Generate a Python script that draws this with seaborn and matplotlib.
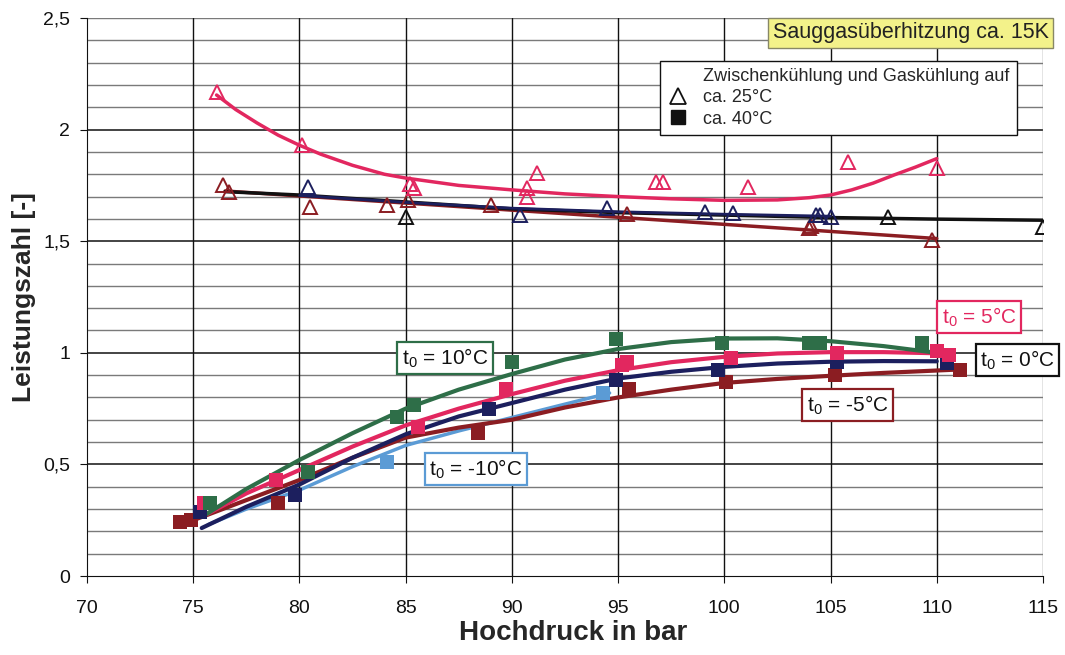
import numpy as np
import matplotlib
matplotlib.use("Agg")
import matplotlib.pyplot as plt
import seaborn as sns
from matplotlib.lines import Line2D

sns.set_style("white")
plt.rcParams["font.family"] = ["Liberation Sans", "DejaVu Sans"]
plt.rcParams["mathtext.fontset"] = "custom"
plt.rcParams["mathtext.rm"] = "Liberation Sans"

# --- triangles: Zwischenkühlung / Gaskühlung ca. 25°C ---
tri_pink_x = [76.1, 80.1, 85.2, 85.4, 90.7, 90.7, 91.2, 96.8, 97.1, 101.1, 105.8, 110.0]
tri_pink_y = [2.17, 1.93, 1.755, 1.74, 1.74, 1.70, 1.805, 1.767, 1.765, 1.745, 1.855, 1.83]
tri_maroon_x = [76.4, 76.7, 80.5, 84.1, 85.1, 89.0, 95.4, 104.0, 104.1, 109.8]
tri_maroon_y = [1.752, 1.72, 1.653, 1.662, 1.685, 1.662, 1.62, 1.559, 1.57, 1.505]
tri_navy_x = [80.4, 90.4, 94.5, 99.1, 100.4, 104.3, 104.5, 105.0]
tri_navy_y = [1.743, 1.617, 1.649, 1.631, 1.626, 1.617, 1.617, 1.608]
tri_black_x = [85.0, 107.7, 115.0]
tri_black_y = [1.608, 1.608, 1.564]

# trend curves for the triangle series
trend_pink_x = [76.1, 77, 78, 79, 80, 81, 82.5, 84, 85, 87.5, 90, 92.5, 95, 97.5, 100, 102.5,
                104, 105, 106, 107, 108, 109, 110]
trend_pink_y = [2.155, 2.09, 2.03, 1.975, 1.93, 1.89, 1.84, 1.80, 1.783, 1.75, 1.73, 1.712,
                1.70, 1.69, 1.683, 1.685, 1.695, 1.707, 1.73, 1.76, 1.797, 1.832, 1.87]
trend_maroon_x = [76.5, 110.0]
trend_maroon_y = [1.725, 1.512]
trend_black_x = [76.5, 80, 85, 90, 95, 100, 105, 110, 115]
trend_black_y = [1.722, 1.707, 1.676, 1.645, 1.628, 1.617, 1.606, 1.599, 1.594]
trend_navy_x = [80.0, 85, 90, 95, 100, 105]
trend_navy_y = [1.705, 1.674, 1.648, 1.632, 1.621, 1.612]

# --- squares: ca. 40°C, one series per evaporation temperature ---
sq_green_x = [75.8, 80.4, 84.6, 85.4, 90.0, 94.9, 99.9, 104.0, 104.5, 109.3]
sq_green_y = [0.327, 0.466, 0.712, 0.766, 0.959, 1.062, 1.044, 1.044, 1.044, 1.044]
sq_pink_x = [75.5, 78.9, 85.6, 89.7, 95.2, 95.4, 100.3, 105.3, 110.0, 110.6]
sq_pink_y = [0.327, 0.43, 0.667, 0.84, 0.945, 0.96, 0.977, 1.0, 1.01, 0.99]
sq_navy_x = [75.3, 79.8, 88.9, 94.9, 99.7, 105.3, 110.5]
sq_navy_y = [0.287, 0.363, 0.748, 0.878, 0.923, 0.96, 0.953]
sq_maroon_x = [74.4, 74.9, 79.0, 88.4, 95.5, 100.1, 105.2, 111.1]
sq_maroon_y = [0.242, 0.25, 0.327, 0.64, 0.84, 0.87, 0.90, 0.923]
sq_blue_x = [84.1, 94.3]
sq_blue_y = [0.51, 0.82]

curve_green_x = [75.5, 77.5, 80, 82.5, 85, 87.5, 90, 92.5, 95, 97.5, 100, 102.5, 105, 107.5, 110]
curve_green_y = [0.27, 0.39, 0.52, 0.64, 0.75, 0.835, 0.905, 0.97, 1.017, 1.048, 1.064, 1.065,
                 1.052, 1.03, 1.0]
curve_pink_x = [75.5, 77.5, 80, 82.5, 85, 87.5, 90, 92.5, 95, 97.5, 100, 102.5, 105, 107.5, 110]
curve_pink_y = [0.27, 0.37, 0.475, 0.58, 0.675, 0.75, 0.815, 0.875, 0.922, 0.958, 0.982, 0.997,
                1.003, 1.003, 0.998]
curve_navy_x = [75.4, 77.5, 80, 82.5, 85, 87.5, 90, 92.5, 95, 97.5, 100, 102.5, 105, 107.5, 110]
curve_navy_y = [0.215, 0.31, 0.41, 0.53, 0.635, 0.715, 0.775, 0.835, 0.885, 0.915, 0.937, 0.952,
                0.96, 0.963, 0.962]
curve_maroon_x = [75.0, 77.5, 80, 82.5, 85, 87.5, 90, 92.5, 95, 97.5, 100, 102.5, 105, 107.5, 111]
curve_maroon_y = [0.25, 0.34, 0.43, 0.53, 0.62, 0.665, 0.70, 0.755, 0.80, 0.835, 0.865, 0.883,
                  0.897, 0.91, 0.925]
curve_blue_x = [75.7, 77.5, 80, 82.5, 85, 87.5, 90, 92.5, 94.6]
curve_blue_y = [0.23, 0.30, 0.385, 0.49, 0.585, 0.65, 0.71, 0.77, 0.82]

labels = ["t$_\\mathregular{0}$ = 10°C", "t$_\\mathregular{0}$ = -10°C", "t$_\\mathregular{0}$ = 5°C",
          "t$_\\mathregular{0}$ = 0°C", "t$_\\mathregular{0}$ = -5°C"]
label_x = [86.85, 88.3, 112.0, 113.8, 105.8]
label_y = [0.977, 0.479, 1.16, 0.968, 0.766]

PINK = "#e2275f"
MAROON = "#8b1d22"
NAVY = "#1c1f5e"
GREEN = "#2e6e48"
BLUE = "#5b9bd5"
BLACK = "#111111"

fig = plt.figure(figsize=(10.65, 6.55), dpi=100)
ax = fig.add_axes([0.0817, 0.1206, 0.8976, 0.8519])

ax.set_xlim(70, 115)
ax.set_ylim(0, 2.5)

# grid: gray minor every 0.1, black major every 0.5, black verticals every 5
for yv in np.arange(0.1, 2.5, 0.1):
    major = abs(yv / 0.5 - round(yv / 0.5)) < 1e-6
    ax.axhline(yv, color="#111111" if major else "#7a7a7a", lw=1.1 if major else 1.0, zorder=1)
ax.axhline(2.5, color="#7a7a7a", lw=1.0, zorder=1)
for xv in range(75, 115, 5):
    ax.axvline(xv, color="#111111", lw=1.0, zorder=1)
ax.axvline(115, color="#7a7a7a", lw=1.0, zorder=1)

for side in ["top", "right"]:
    ax.spines[side].set_visible(False)
ax.spines["left"].set_color("#111111")
ax.spines["bottom"].set_color("#111111")

# triangle trend lines
sns.lineplot(x=trend_maroon_x, y=trend_maroon_y, color=MAROON, lw=2.5, ax=ax, sort=False, estimator=None, zorder=3)
sns.lineplot(x=trend_black_x, y=trend_black_y, color=BLACK, lw=2.5, ax=ax, sort=False, estimator=None, zorder=3)
sns.lineplot(x=trend_navy_x, y=trend_navy_y, color=NAVY, lw=2.0, ax=ax, sort=False, estimator=None, zorder=3)
sns.lineplot(x=trend_pink_x, y=trend_pink_y, color=PINK, lw=2.5, ax=ax, sort=False, estimator=None, zorder=3)

# square trend curves
sns.lineplot(x=curve_blue_x, y=curve_blue_y, color=BLUE, lw=2.5, ax=ax, sort=False, estimator=None, zorder=3)
sns.lineplot(x=curve_maroon_x, y=curve_maroon_y, color=MAROON, lw=3, ax=ax, sort=False, estimator=None, zorder=3)
sns.lineplot(x=curve_navy_x, y=curve_navy_y, color=NAVY, lw=3, ax=ax, sort=False, estimator=None, zorder=3)
sns.lineplot(x=curve_pink_x, y=curve_pink_y, color=PINK, lw=3, ax=ax, sort=False, estimator=None, zorder=3)
sns.lineplot(x=curve_green_x, y=curve_green_y, color=GREEN, lw=3, ax=ax, sort=False, estimator=None, zorder=3)

# open triangles
for xs, ys, c in [(tri_maroon_x, tri_maroon_y, MAROON), (tri_navy_x, tri_navy_y, NAVY),
                  (tri_black_x, tri_black_y, BLACK), (tri_pink_x, tri_pink_y, PINK)]:
    ax.plot(xs, ys, ls="none", marker="^", ms=10, mfc="none", mec=c, mew=1.4, zorder=4)

# filled squares
for xs, ys, c in [(sq_maroon_x, sq_maroon_y, MAROON), (sq_blue_x, sq_blue_y, BLUE),
                  (sq_navy_x, sq_navy_y, NAVY), (sq_pink_x, sq_pink_y, PINK),
                  (sq_green_x, sq_green_y, GREEN)]:
    sns.scatterplot(x=xs, y=ys, marker="s", s=90, color=c, edgecolor=c, linewidth=0, ax=ax, zorder=4)

# series labels
label_colors = [GREEN, BLUE, PINK, BLACK, MAROON]
for t, lx, ly, c in zip(labels, label_x, label_y, label_colors):
    ax.text(lx, ly, t, ha="center", va="center", fontsize=15, color=BLACK if c != PINK else PINK,
            zorder=6, bbox=dict(boxstyle="square,pad=0.22", fc="white", ec=c, lw=1.6))

# header box
ax.text(1.006, 0.992, "Sauggasüberhitzung ca. 15K", transform=ax.transAxes, ha="right", va="top",
        fontsize=15.5, color="#222222", zorder=6,
        bbox=dict(boxstyle="square,pad=0.22", fc="#f3f28a", ec="#888866", lw=1.0))

# legend
handles = [Line2D([], [], ls="none", marker=None),
           Line2D([], [], ls="none", marker="^", ms=11, mfc="none", mec=BLACK, mew=1.3),
           Line2D([], [], ls="none", marker="s", ms=10, color=BLACK)]
leg = ax.legend(handles, ["Zwischenkühlung und Gaskühlung auf", "ca. 25°C", "ca. 40°C"],
                loc="upper left", bbox_to_anchor=(0.59, 0.94), fontsize=13, frameon=True,
                fancybox=False, edgecolor=BLACK, framealpha=1, handlelength=1.2,
                handletextpad=0.8, labelspacing=0.25, borderpad=0.4)
leg.get_frame().set_linewidth(1.0)
leg.set_zorder(7)

ax.set_xticks(range(70, 116, 5))
ax.set_yticks([0, 0.5, 1, 1.5, 2, 2.5])
ax.set_yticklabels(["0", "0,5", "1", "1,5", "2", "2,5"])
ax.tick_params(axis="both", labelsize=14, colors="#111111", length=5, direction="out", left=True, bottom=True)
ax.tick_params(axis="x", pad=12)
ax.tick_params(axis="y", pad=7)

ax.set_xlabel("Hochdruck in bar", fontsize=20, fontweight="bold")
ax.set_ylabel("Leistungszahl [-]", fontsize=19, fontweight="bold")
ax.xaxis.set_label_coords(0.508, -0.078)
ax.yaxis.set_label_coords(-0.053, 0.5)

fig.savefig("out.png", dpi=100)
